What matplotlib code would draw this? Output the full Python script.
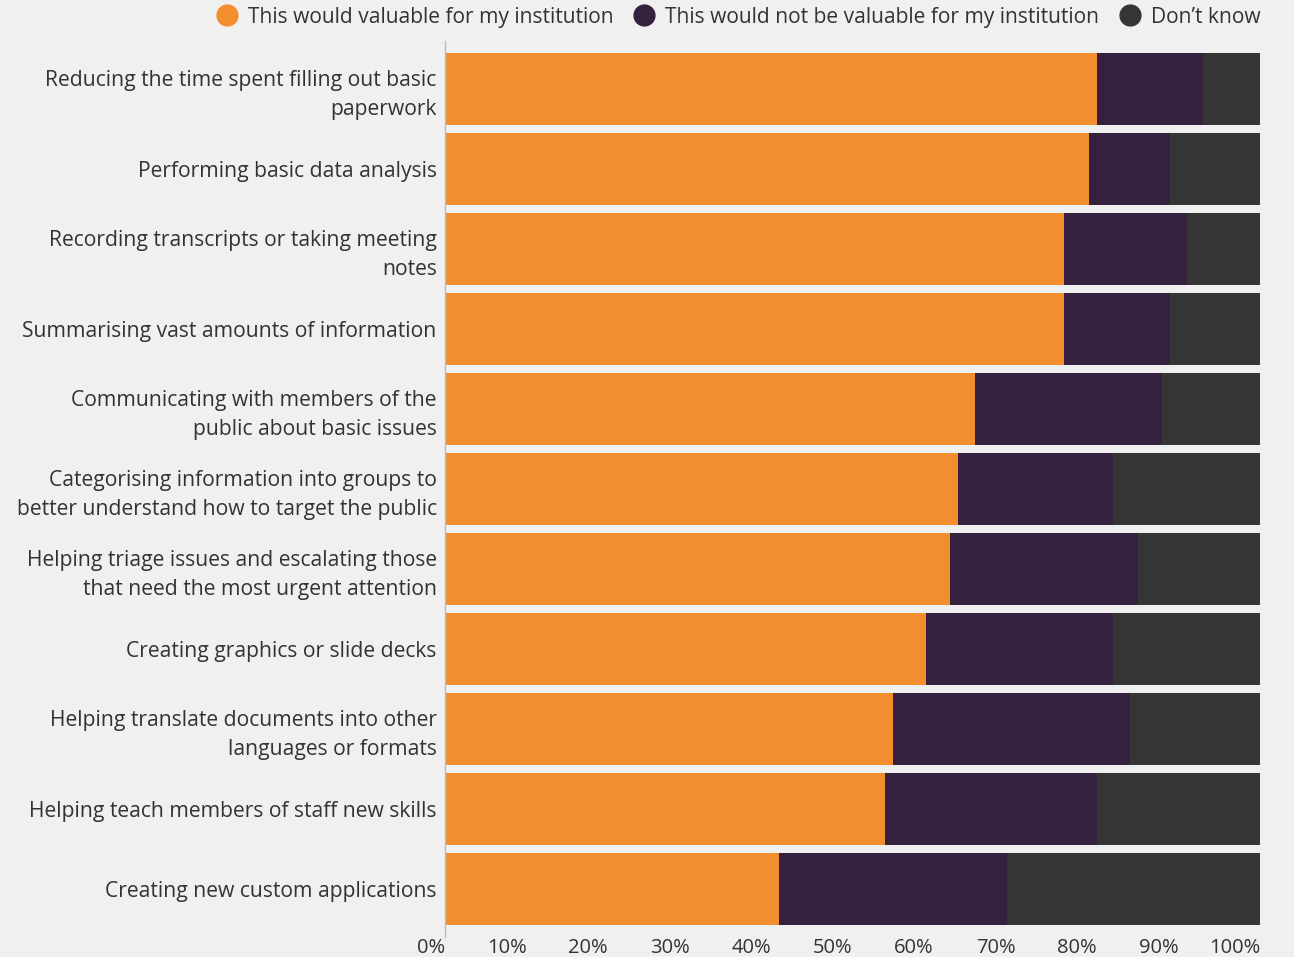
import matplotlib.pyplot as plt
from matplotlib.lines import Line2D

plt.rcParams['font.family'] = ['Open Sans', 'DejaVu Sans']

# Tasks, top to bottom
tasks = [
    "Reducing the time spent filling out basic\npaperwork",
    "Performing basic data analysis",
    "Recording transcripts or taking meeting\nnotes",
    "Summarising vast amounts of information",
    "Communicating with members of the\npublic about basic issues",
    "Categorising information into groups to\nbetter understand how to target the public",
    "Helping triage issues and escalating those\nthat need the most urgent attention",
    "Creating graphics or slide decks",
    "Helping translate documents into other\nlanguages or formats",
    "Helping teach members of staff new skills",
    "Creating new custom applications",
]

# Share of respondents (%)
valuable = [80, 79, 76, 76, 65, 63, 62, 59, 55, 54, 41]
not_valuable = [13, 10, 15, 13, 23, 19, 23, 23, 29, 26, 28]
dont_know = [7, 11, 9, 11, 12, 18, 15, 18, 16, 20, 31]

series_names = ["This would valuable for my institution",
                "This would not be valuable for my institution",
                "Don\u2019t know"]
colors = ["#F28E2E", "#35213D", "#353535"]
bg = "#F0F0F0"
text_col = "#333333"

fig = plt.figure(figsize=(12.94, 9.57), dpi=100, facecolor=bg)
ax = fig.add_axes([0.3439, 0.0209, 0.6298, 0.9363])
ax.set_facecolor(bg)

ypos = list(range(len(tasks)))
left = [0] * len(tasks)
for vals, col in zip([valuable, not_valuable, dont_know], colors):
    ax.barh(ypos, vals, left=left, height=0.9, color=col, edgecolor='none')
    left = [l + v for l, v in zip(left, vals)]

ax.set_xlim(0, 100)
ax.set_ylim(10.6, -0.6)

ax.set_yticks(ypos)
ax.set_yticklabels(tasks, fontsize=15.2, color=text_col, linespacing=1.45)
ax.tick_params(axis='y', length=0, pad=6)

ax.set_xticks(range(0, 101, 10))
ax.set_xticklabels([f"{t}%" for t in range(0, 101, 10)], fontsize=14.5,
                   color=text_col, ha='right')
ax.tick_params(axis='x', length=0, pad=1)

for s in ['top', 'right', 'bottom']:
    ax.spines[s].set_visible(False)
ax.spines['left'].set_color('#bbbbbb')
ax.spines['left'].set_linewidth(1)

handles = [Line2D([], [], marker='o', linestyle='none', markersize=15,
                  markerfacecolor=c, markeredgecolor=c) for c in colors]
fig.legend(handles, series_names, loc='center right', bbox_to_anchor=(0.982, 0.982),
           ncol=3, frameon=False, fontsize=15.15, handletextpad=0.0,
           columnspacing=0.45, labelcolor=text_col, borderpad=0)

fig.savefig("out.png", dpi=100, facecolor=bg)
